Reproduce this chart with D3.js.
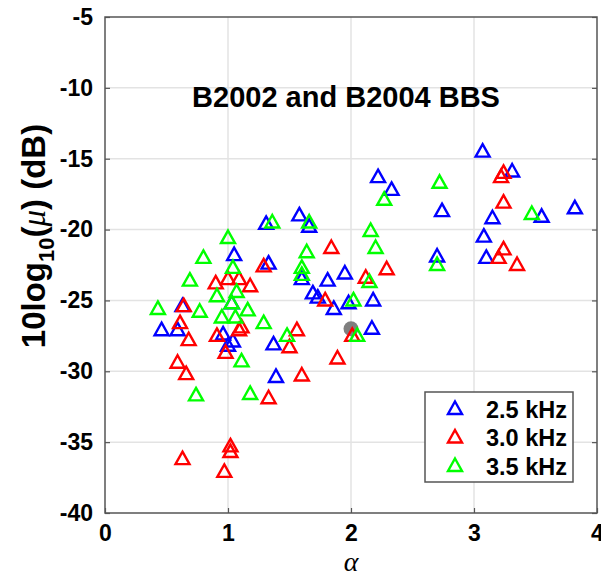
<!DOCTYPE html>
<html>
<head>
<meta charset="utf-8">
<script src="https://cdn.jsdelivr.net/npm/d3@7"></script>
<style>
  body { margin: 0; background: #fff; }
  svg { display: block; font-family: "Liberation Sans", Arial, sans-serif; }
</style>
</head>
<body>
<svg id="chart" width="601" height="578"></svg>
<script>
const xTicks = [0, 1, 2, 3, 4];
const yTicks = [-5, -10, -15, -20, -25, -30, -35, -40];

const blue25 = [
  [0.46, -27.1], [0.59, -27.1], [0.63, -25.4], [0.96, -27.4], [1.0, -28.2], [1.04, -27.9],
  [1.03, -25.2], [1.05, -21.8], [1.33, -22.4], [1.31, -19.6], [1.37, -28.1], [1.39, -30.4],
  [1.58, -19.0], [1.66, -19.8], [1.60, -23.5], [1.69, -24.5], [1.73, -24.8], [1.81, -23.6],
  [1.86, -25.6], [1.95, -23.1], [1.98, -25.2], [2.17, -27.0], [2.18, -25.0], [2.22, -16.3],
  [2.33, -17.2], [2.70, -21.9], [2.74, -18.7], [3.07, -14.5], [3.08, -20.5], [3.10, -22.0],
  [3.15, -19.2], [3.31, -15.9], [3.55, -19.1], [3.82, -18.5],
];
const red30 = [
  [0.61, -26.6], [0.59, -29.4], [0.64, -25.4], [0.66, -30.2], [0.63, -36.2], [0.68, -27.8],
  [0.90, -23.8], [0.91, -27.5], [0.97, -37.1], [0.98, -28.7], [1.00, -23.5], [1.02, -35.3],
  [1.02, -35.7], [1.09, -23.5], [1.11, -26.9], [1.09, -27.1], [1.18, -24.0], [1.29, -22.6],
  [1.33, -31.9], [1.50, -28.3], [1.56, -27.1], [1.60, -30.3], [1.79, -25.0], [1.84, -21.3],
  [1.89, -29.1], [2.01, -27.5], [2.12, -23.4], [2.29, -22.8], [3.20, -22.0], [3.24, -21.4],
  [3.24, -18.1], [3.24, -16.0], [3.22, -16.3], [3.35, -22.5],
];
const green35 = [
  [0.43, -25.6], [0.69, -23.6], [0.74, -31.7], [0.77, -25.8], [0.80, -22.0], [0.91, -24.7],
  [0.95, -26.2], [1.00, -20.6], [1.04, -22.7], [1.03, -25.2], [1.06, -26.2], [1.07, -24.4],
  [1.11, -29.3], [1.16, -25.7], [1.18, -31.6], [1.29, -26.6], [1.36, -19.5], [1.48, -27.5],
  [1.60, -22.7], [1.60, -23.2], [1.64, -21.6], [1.66, -19.5], [2.02, -25.0], [2.05, -27.5],
  [2.15, -23.7], [2.16, -20.1], [2.20, -21.3], [2.27, -17.9], [2.70, -22.5], [2.72, -16.7],
  [3.47, -18.9],
];
const greyPoint = [[2.0, -27.0]];

const series = [
  { label: "2.5 kHz", color: "#0000ff", points: blue25 },
  { label: "3.0 kHz", color: "#ff0000", points: red30 },
  { label: "3.5 kHz", color: "#00ff00", points: green35 },
];

const svg = d3.select("#chart");
const margin = { left: 105, right: 4, top: 17, bottom: 65 };
const width = 601 - margin.left - margin.right;
const height = 578 - margin.top - margin.bottom;

const x = d3.scaleLinear().domain([0, 4]).range([0, width]);
const y = d3.scaleLinear().domain([-40, -5]).range([height, 0]);

const g = svg.append("g").attr("transform", `translate(${margin.left},${margin.top})`);

// grid
g.append("g")
  .selectAll("line.vgrid")
  .data(xTicks.slice(1, -1))
  .join("line")
  .attr("x1", (d) => x(d)).attr("x2", (d) => x(d))
  .attr("y1", 0).attr("y2", height)
  .attr("stroke", "#e3e3e3").attr("stroke-width", 1.5);
g.append("g")
  .selectAll("line.hgrid")
  .data(yTicks.slice(1, -1))
  .join("line")
  .attr("x1", 0).attr("x2", width)
  .attr("y1", (d) => y(d)).attr("y2", (d) => y(d))
  .attr("stroke", "#e3e3e3").attr("stroke-width", 1.5);

const axisColor = "#555";

function styleAxis(sel) {
  sel.select(".domain").remove();
  sel.selectAll(".tick line").attr("stroke", axisColor).attr("stroke-width", 1.2);
  sel.selectAll(".tick text")
    .attr("fill", "#000")
    .attr("font-size", 23)
    .attr("font-weight", "bold")
    .attr("font-family", "Liberation Sans, Arial, sans-serif");
}

g.append("g")
  .attr("transform", `translate(0,${height})`)
  .call(d3.axisBottom(x).tickValues(xTicks).tickSize(-5).tickPadding(12).tickFormat(d3.format("d")))
  .call(styleAxis);

g.append("g")
  .call(d3.axisLeft(y).tickValues(yTicks).tickSize(-5).tickPadding(12).tickFormat((d) => d))
  .call(styleAxis);

g.append("g")
  .attr("transform", `translate(${width},0)`)
  .call(d3.axisRight(y).tickValues(yTicks).tickSize(-5).tickFormat(""))
  .call(styleAxis);

g.append("rect")
  .attr("width", width).attr("height", height)
  .attr("fill", "none").attr("stroke", axisColor).attr("stroke-width", 1.5);

// markers
const tri = "M0,-7.5 L7,5 L-7,5 Z";

g.append("g")
  .selectAll("circle")
  .data(greyPoint)
  .join("circle")
  .attr("cx", (d) => x(d[0])).attr("cy", (d) => y(d[1]))
  .attr("r", 7.5)
  .attr("fill", "#7f7f7f");

series.forEach((s) => {
  g.append("g")
    .selectAll("path")
    .data(s.points)
    .join("path")
    .attr("d", tri)
    .attr("transform", (d) => `translate(${x(d[0])},${y(d[1])})`)
    .attr("fill", "none")
    .attr("stroke", s.color)
    .attr("stroke-width", 2.4)
    .attr("stroke-linejoin", "miter");
});

// title
g.append("text")
  .attr("x", 241).attr("y", 90)
  .attr("text-anchor", "middle")
  .attr("font-size", 29).attr("font-weight", "bold")
  .text("B2002 and B2004 BBS");

// legend
const legend = svg.append("g").attr("transform", "translate(425,392)");
legend.append("rect")
  .attr("width", 148).attr("height", 90)
  .attr("fill", "#fff").attr("stroke", axisColor).attr("stroke-width", 1.5);
series.forEach((s, i) => {
  const ly = 17 + i * 28.5;
  legend.append("path")
    .attr("d", tri)
    .attr("transform", `translate(30,${ly})`)
    .attr("fill", "none").attr("stroke", s.color).attr("stroke-width", 2.4);
  legend.append("text")
    .attr("x", 61).attr("y", ly + 8.5)
    .attr("font-size", 23.5).attr("font-weight", "bold")
    .text(s.label);
});

// axis labels
svg.append("text")
  .attr("x", margin.left + x(2)).attr("y", 571)
  .attr("text-anchor", "middle")
  .attr("font-family", "Liberation Serif, Times New Roman, serif")
  .attr("font-style", "italic")
  .attr("font-size", 28)
  .text("α");

const yl = svg.append("text")
  .attr("transform", "translate(45,236) rotate(-90)")
  .attr("text-anchor", "middle")
  .attr("font-size", 33).attr("font-weight", "bold");
yl.append("tspan").text("10log");
yl.append("tspan").attr("font-size", 22).attr("dy", 9).text("10");
yl.append("tspan").attr("dy", -9).text("(");
yl.append("tspan").attr("font-family", "Liberation Serif, serif").attr("font-style", "italic").attr("font-weight", "normal").text("μ");
yl.append("tspan").text(") (dB)");
</script>
</body>
</html>
